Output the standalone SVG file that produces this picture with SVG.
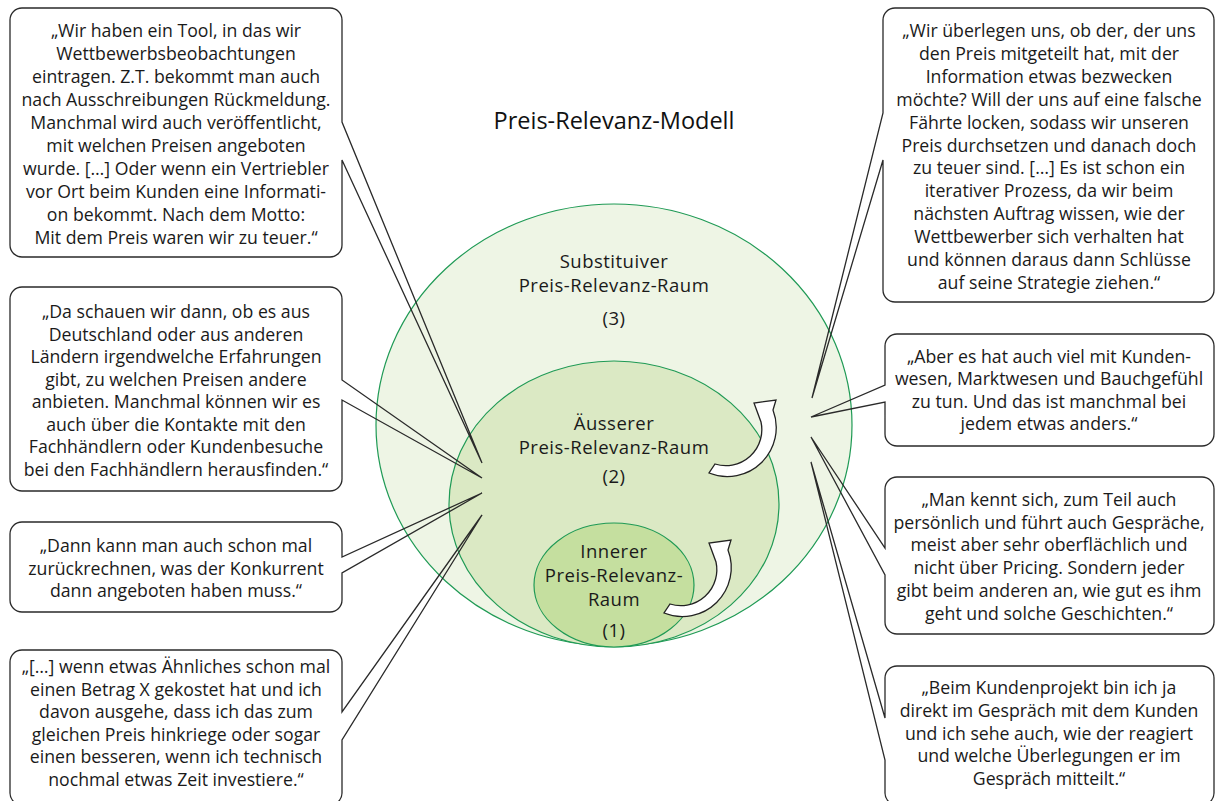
<svg xmlns="http://www.w3.org/2000/svg" width="1227" height="801" viewBox="0 0 1227 801">
<style>
.bg{fill:#ffffff;stroke:none}
.ol{fill:none;stroke:#2a2a2a;stroke-width:1.3;stroke-linejoin:miter}
.q{font-family:"Open Sans","Noto Sans",sans-serif;font-size:17.7px;fill:#1a1a1a;text-anchor:middle}
.c{font-family:"Open Sans","Noto Sans",sans-serif;font-size:18.5px;letter-spacing:0.5px;fill:#1a1a1a;text-anchor:middle}
.t{font-family:"Open Sans","Noto Sans",sans-serif;font-size:23.5px;fill:#111;text-anchor:middle}
.ring{stroke:#1f9a55;stroke-width:1.2}
.arr{fill:#ffffff;stroke:#222;stroke-width:1.3;stroke-linejoin:miter}
</style>
<defs>
<path id="carrow" d="M709,473 A49,49 0 0 0 773,410 L776,400 L754,403 L761,422 A36,36 0 0 1 715,464 Z"/>
</defs>
<rect width="1227" height="801" fill="#ffffff"/>
<text class="t" x="614" y="129">Preis-Relevanz-Modell</text>

<g id="ring3"><ellipse class="ring" cx="614" cy="425" rx="238" ry="221" fill="#eef5e5"/></g>
<g id="ring2"><ellipse class="ring" cx="614" cy="504" rx="165" ry="143" fill="#dbe9c4"/></g>
<g id="ring1"><ellipse class="ring" cx="614" cy="585" rx="80" ry="62" fill="#c5df9f"/></g>

<g id="label3"><text class="c"><tspan x="614" y="268">Substituiver</tspan><tspan x="614" y="292">Preis-Relevanz-Raum</tspan><tspan x="614" y="325">(3)</tspan></text></g>
<g id="label2"><text class="c"><tspan x="614" y="430">Äusserer</tspan><tspan x="614" y="454">Preis-Relevanz-Raum</tspan><tspan x="614" y="483">(2)</tspan></text></g>
<g id="label1"><text class="c"><tspan x="614" y="558">Innerer</tspan><tspan x="614" y="582">Preis-Relevanz-</tspan><tspan x="614" y="606">Raum</tspan><tspan x="614" y="637">(1)</tspan></text></g>

<g id="cycles">
<use href="#carrow" class="arr"/>
<use href="#carrow" class="arr" transform="translate(-45,140)"/>
</g>

<g id="connectors"></g>

<g id="q1">
<rect class="bg" x="10" y="8" width="332" height="249" rx="12"/>
<path class="ol" d="M22,8 H330 A12,12 0 0 1 342,20 V122 L482,463 L342,160 V245 A12,12 0 0 1 330,257 H22 A12,12 0 0 1 10,245 V20 A12,12 0 0 1 22,8 Z"/>
<text class="q"><tspan x="176" y="37">„Wir haben ein Tool, in das wir</tspan><tspan x="176" dy="23">Wettbewerbsbeobachtungen</tspan><tspan x="176" dy="23">eintragen. Z.T. bekommt man auch</tspan><tspan x="176" dy="23">nach Ausschreibungen Rückmeldung.</tspan><tspan x="176" dy="23">Manchmal wird auch veröffentlicht,</tspan><tspan x="176" dy="23">mit welchen Preisen angeboten</tspan><tspan x="176" dy="23">wurde. […] Oder wenn ein Vertriebler</tspan><tspan x="176" dy="23">vor Ort beim Kunden eine Informati-</tspan><tspan x="176" dy="23">on bekommt. Nach dem Motto:</tspan><tspan x="176" dy="23">Mit dem Preis waren wir zu teuer.“</tspan></text>
</g>

<g id="q2">
<rect class="bg" x="10" y="287" width="332" height="204" rx="12"/>
<path class="ol" d="M22,287 H330 A12,12 0 0 1 342,299 V380 L482,478 L342,400 V479 A12,12 0 0 1 330,491 H22 A12,12 0 0 1 10,479 V299 A12,12 0 0 1 22,287 Z"/>
<text class="q"><tspan x="176" y="318">„Da schauen wir dann, ob es aus</tspan><tspan x="176" dy="22.5">Deutschland oder aus anderen</tspan><tspan x="176" dy="22.5">Ländern irgendwelche Erfahrungen</tspan><tspan x="176" dy="22.5">gibt, zu welchen Preisen andere</tspan><tspan x="176" dy="22.5">anbieten. Manchmal können wir es</tspan><tspan x="176" dy="22.5">auch über die Kontakte mit den</tspan><tspan x="176" dy="22.5">Fachhändlern oder Kundenbesuche</tspan><tspan x="176" dy="22.5">bei den Fachhändlern herausfinden.“</tspan></text>
</g>

<g id="q3">
<rect class="bg" x="10" y="522" width="332" height="90" rx="12"/>
<path class="ol" d="M22,522 H330 A12,12 0 0 1 342,534 V557 L482,493 L342,573 V600 A12,12 0 0 1 330,612 H22 A12,12 0 0 1 10,600 V534 A12,12 0 0 1 22,522 Z"/>
<text class="q"><tspan x="176" y="552">„Dann kann man auch schon mal</tspan><tspan x="176" dy="22.5">zurückrechnen, was der Konkurrent</tspan><tspan x="176" dy="22.5">dann angeboten haben muss.“</tspan></text>
</g>

<g id="q4">
<rect class="bg" x="10" y="650" width="332" height="155" rx="12"/>
<path class="ol" d="M22,650 H330 A12,12 0 0 1 342,662 V712 L482,515 L342,740 V793 A12,12 0 0 1 330,805 H22 A12,12 0 0 1 10,793 V662 A12,12 0 0 1 22,650 Z"/>
<text class="q"><tspan x="176" y="673">„[…] wenn etwas Ähnliches schon mal</tspan><tspan x="176" dy="22.6">einen Betrag X gekostet hat und ich</tspan><tspan x="176" dy="22.6">davon ausgehe, dass ich das zum</tspan><tspan x="176" dy="22.6">gleichen Preis hinkriege oder sogar</tspan><tspan x="176" dy="22.6">einen besseren, wenn ich technisch</tspan><tspan x="176" dy="22.6">nochmal etwas Zeit investiere.“</tspan></text>
</g>

<g id="q5">
<rect class="bg" x="883" y="8" width="331" height="294" rx="12"/>
<path class="ol" d="M895,8 H1202 A12,12 0 0 1 1214,20 V290 A12,12 0 0 1 1202,302 H895 A12,12 0 0 1 883,290 V160 L812,398 L883,113 V20 A12,12 0 0 1 895,8 Z"/>
<text class="q"><tspan x="1049" y="37">„Wir überlegen uns, ob der, der uns</tspan><tspan x="1049" dy="22.9">den Preis mitgeteilt hat, mit der</tspan><tspan x="1049" dy="22.9">Information etwas bezwecken</tspan><tspan x="1049" dy="22.9">möchte? Will der uns auf eine falsche</tspan><tspan x="1049" dy="22.9">Fährte locken, sodass wir unseren</tspan><tspan x="1049" dy="22.9">Preis durchsetzen und danach doch</tspan><tspan x="1049" dy="22.9">zu teuer sind. […] Es ist schon ein</tspan><tspan x="1049" dy="22.9">iterativer Prozess, da wir beim</tspan><tspan x="1049" dy="22.9">nächsten Auftrag wissen, wie der</tspan><tspan x="1049" dy="22.9">Wettbewerber sich verhalten hat</tspan><tspan x="1049" dy="22.9">und können daraus dann Schlüsse</tspan><tspan x="1049" dy="22.9">auf seine Strategie ziehen.“</tspan></text>
</g>

<g id="q6">
<rect class="bg" x="885" y="334" width="329" height="112" rx="12"/>
<path class="ol" d="M897,334 H1202 A12,12 0 0 1 1214,346 V434 A12,12 0 0 1 1202,446 H897 A12,12 0 0 1 885,434 V402 L811,417 L885,385 V346 A12,12 0 0 1 897,334 Z"/>
<text class="q"><tspan x="1049" y="363">„Aber es hat auch viel mit Kunden-</tspan><tspan x="1049" dy="22.4">wesen, Marktwesen und Bauchgefühl</tspan><tspan x="1049" dy="22.4">zu tun. Und das ist manchmal bei</tspan><tspan x="1049" dy="22.4">jedem etwas anders.“</tspan></text>
</g>

<g id="q7">
<rect class="bg" x="885" y="477" width="329" height="157" rx="12"/>
<path class="ol" d="M897,477 H1202 A12,12 0 0 1 1214,489 V622 A12,12 0 0 1 1202,634 H897 A12,12 0 0 1 885,622 V575 L811,437 L885,548 V489 A12,12 0 0 1 897,477 Z"/>
<text class="q"><tspan x="1049" y="506">„Man kennt sich, zum Teil auch</tspan><tspan x="1049" dy="22.7">persönlich und führt auch Gespräche,</tspan><tspan x="1049" dy="22.7">meist aber sehr oberflächlich und</tspan><tspan x="1049" dy="22.7">nicht über Pricing. Sondern jeder</tspan><tspan x="1049" dy="22.7">gibt beim anderen an, wie gut es ihm</tspan><tspan x="1049" dy="22.7">geht und solche Geschichten.“</tspan></text>
</g>

<g id="q8">
<rect class="bg" x="885" y="666" width="329" height="139" rx="12"/>
<path class="ol" d="M897,666 H1202 A12,12 0 0 1 1214,678 V793 A12,12 0 0 1 1202,805 H897 A12,12 0 0 1 885,793 V760 L811,462 L885,718 V678 A12,12 0 0 1 897,666 Z"/>
<text class="q"><tspan x="1049" y="694">„Beim Kundenprojekt bin ich ja</tspan><tspan x="1049" dy="22.8">direkt im Gespräch mit dem Kunden</tspan><tspan x="1049" dy="22.8">und ich sehe auch, wie der reagiert</tspan><tspan x="1049" dy="22.8">und welche Überlegungen er im</tspan><tspan x="1049" dy="22.8">Gespräch mitteilt.“</tspan></text>
</g>
</svg>
